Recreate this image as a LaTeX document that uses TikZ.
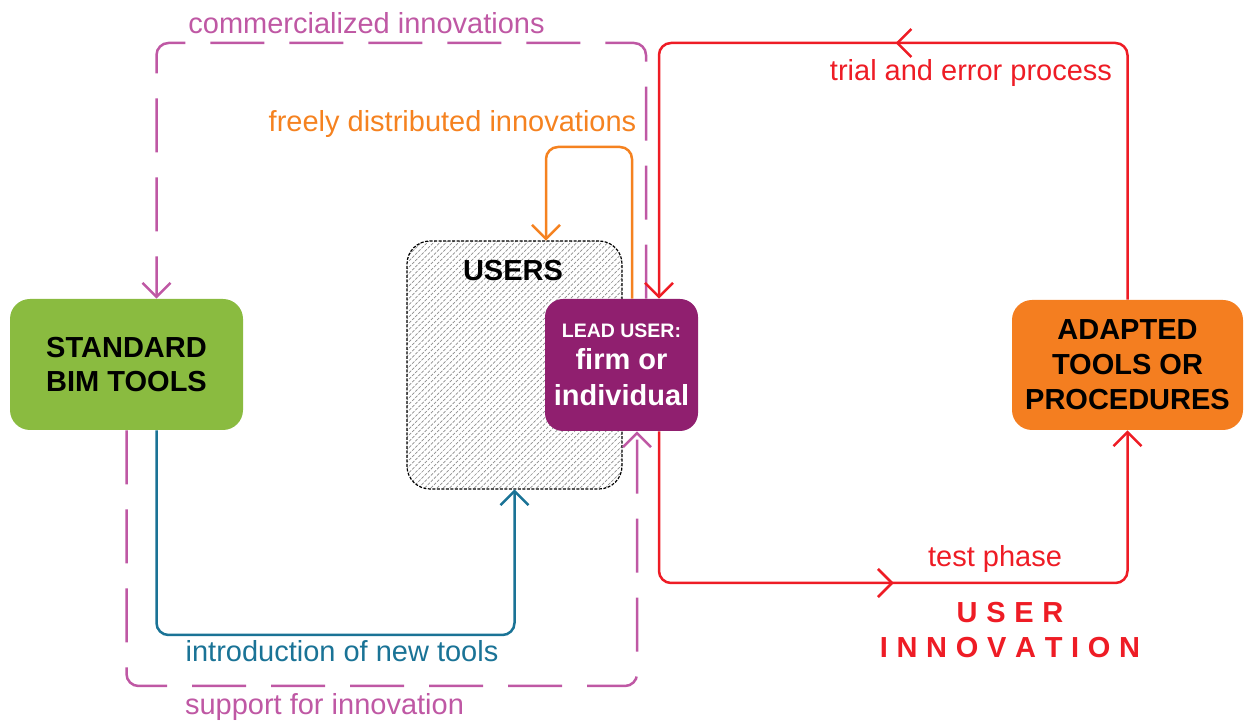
\documentclass[tikz,border=0pt]{standalone}
\usepackage{fontspec}
\setmainfont{Liberation Sans}
\usetikzlibrary{arrows.meta,patterns.meta,decorations.markings}
\pgfdeclarelayer{bg}
\pgfsetlayers{bg,main}
\definecolor{cgreen}{HTML}{8ABB40}
\definecolor{cpurple}{HTML}{901F6F}
\definecolor{corangebox}{HTML}{F47E20}
\definecolor{cmag}{HTML}{BF58A4}
\definecolor{corange}{HTML}{F58220}
\definecolor{cred}{HTML}{EE1C25}
\definecolor{cteal}{HTML}{1A7396}
\definecolor{chatch}{HTML}{8C8C8C}
\newcommand{\ls}{\hspace{4.35pt}}
\begin{document}
\begin{tikzpicture}[x=0.5pt,y=-0.5pt,
  bimbox/.style={rounded corners=9pt, inner sep=0pt, align=center, font=\fontsize{14.5}{17}\selectfont\bfseries},
  lbl/.style={font=\fontsize{14.5}{17}\selectfont, inner sep=0pt, anchor=base},
  barb/.style={-{Straight Barb[length=7pt,width=14pt]}},
  conn/.style={line width=1.25pt, rounded corners=6pt, barb},
  dsh/.style={conn, cmag, dash pattern=on 27pt off 12.5pt},
  midtip/.style={postaction={decorate}, decoration={markings, mark=at position #1 with {\arrow{Straight Barb[length=7pt,width=14pt]}}}}
]
\useasboundingbox (0,0) rectangle (1244,726);

% nodes
\begin{pgfonlayer}{bg}
\node[draw=black, line width=0.6pt, dash pattern=on 1.5pt off 0.75pt, rounded corners=11.5pt,
      pattern={Lines[angle=45,distance=2.2pt,line width=0.35pt]}, pattern color=chatch,
      minimum width=107.5pt, minimum height=124pt, inner sep=0pt] (users) at (514.5,365) {};
\end{pgfonlayer}
\node[font=\fontsize{14.5}{17}\selectfont\bfseries, inner sep=0pt, anchor=base] (userslbl) at (513,280.5) {USERS};

\node[bimbox, fill=cgreen, rounded corners=10pt, minimum width=116.5pt, minimum height=65.5pt] (green) at (126.5,364.5) {STANDARD\\BIM TOOLS};
\node[bimbox, fill=corangebox, rounded corners=10pt, minimum width=115.5pt, minimum height=65pt, font=\fontsize{14.5}{17.5}\selectfont\bfseries] (adapted) at (1127.5,365) {ADAPTED\\TOOLS OR\\PROCEDURES};
\node[bimbox, fill=cpurple, text=white, minimum width=76.5pt, minimum height=66pt, font=\fontsize{14.5}{18}\selectfont\bfseries] (lead) at (621.5,365)
  {{\fontsize{9.75}{12}\selectfont LEAD USER:}\\[-2pt]firm or\\individual};

% connectors
\begin{pgfonlayer}{bg}
\draw[dsh] ([xshift=12.25pt]lead.north) -- (646,43) -- (156.5,43) -- ([xshift=15pt]green.north);
\draw[dsh] (green.south) -- (126.5,686) -- (637,686) -- ([xshift=7.75pt]lead.south);
\draw[conn, cteal] ([xshift=15pt]green.south) -- (156.5,635) -- (514.5,635) -- (users.south);
\draw[conn, corange] ([xshift=5.25pt]lead.north) -- (632,147) -- (546,147) -- ([xshift=15.75pt]users.north);
\draw[conn, cred, midtip=0.498] (adapted.north) -- (1127.5,43) -- (659,43) -- ([xshift=18.75pt]lead.north);
\draw[conn, cred, midtip=0.5] ([xshift=18.75pt]lead.south) -- (659,583) -- (1127.5,583) -- (adapted.south);
\end{pgfonlayer}

% labels
\node[lbl, cmag] (lcomm) at (366.5,34) {commercialized innovations};
\node[lbl, corange] (lfree) at (452.5,132) {freely distributed innovations};
\node[lbl, cred] (ltrial) at (971,81) {trial and error process};
\node[lbl, cred] (ltest) at (995,567) {test phase};
\node[lbl, cteal] (lintro) at (342,662) {introduction of new tools};
\node[lbl, cmag] (lsupp) at (324.5,715) {support for innovation};
\node[font=\fontsize{14.5}{17.5}\selectfont\bfseries, text=cred, align=center, inner sep=0pt] (innov) at (1010,630)
  {U\ls S\ls E\ls R\\I\ls N\ls N\ls O\ls V\ls A\ls T\ls I\ls O\ls N};
\end{tikzpicture}
\end{document}
